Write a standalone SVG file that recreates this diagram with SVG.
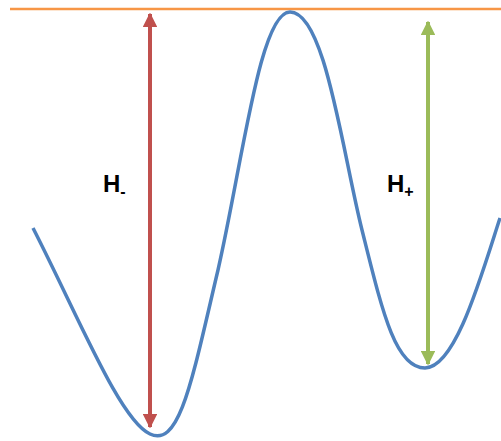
<svg xmlns="http://www.w3.org/2000/svg" width="501" height="441" viewBox="0 0 501 441">
<style>
.lbl{font-family:"Liberation Sans",Arial,sans-serif;font-weight:bold;fill:#000}
</style>
<defs>
<marker id="ag" viewBox="0 0 10 10" refX="9" refY="5" markerWidth="3.7" markerHeight="3.7" orient="auto-start-reverse" markerUnits="strokeWidth"><path d="M0,0 L10,5 L0,10 Z" fill="#9bbb59"/></marker>
<marker id="arr" viewBox="0 0 10 10" refX="9" refY="5" markerWidth="3.7" markerHeight="3.7" orient="auto-start-reverse" markerUnits="strokeWidth"><path d="M0,0 L10,5 L0,10 Z" fill="#c0504d"/></marker>
</defs>
<g id="baseline"><line x1="10" y1="9" x2="501" y2="9" stroke="#f79646" stroke-width="2.5"/></g>
<g id="curve"><path d="M33,228 C80,320 120,420 150,434 C180,448 192,380 218,270 C243,160 260,12 290,12 C325,12 342,150 362,230 C382,310 395,368 425,368 C455,368 480,280 500,218" fill="none" stroke="#4f81bd" stroke-width="3.5"/></g>
<g id="connectors">
<line x1="150" y1="14" x2="150" y2="427" stroke="#c0504d" stroke-width="4" marker-start="url(#arr)" marker-end="url(#arr)"/>
<line x1="428" y1="22" x2="428" y2="364" stroke="#9bbb59" stroke-width="4" marker-start="url(#ag)" marker-end="url(#ag)"/>
</g>
<g id="label-hminus"><text class="lbl" x="103" y="192" font-size="24">H<tspan font-size="16" dy="5">-</tspan></text></g>
<g id="label-hplus"><text class="lbl" x="387" y="192" font-size="24">H<tspan font-size="16" dy="5">+</tspan></text></g>
</svg>
